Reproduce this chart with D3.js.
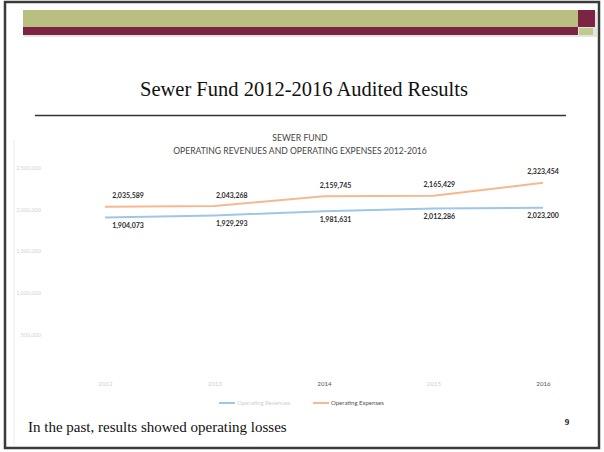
<html>
<head>
<meta charset="UTF-8">
<title>Sewer Fund</title>
<script src="https://cdn.jsdelivr.net/npm/d3@7"></script>
<style>
body{margin:0;background:#fff;}
svg{display:block;}
.serif{font-family:"Liberation Serif","DejaVu Serif",serif;fill:#111;}
.cal{font-family:Lato,"Open Sans",sans-serif;}
</style>
</head>
<body>
<svg id="slide" width="604" height="452"></svg>
<script>
// data
var years = ["2012", "2013", "2014", "2015", "2016"];
var revenues = [1904073, 1929293, 1981631, 2012286, 2023200];
var expenses = [2035589, 2043268, 2159745, 2165429, 2323454];
var yTicks = [500000, 1000000, 1500000, 2000000, 2500000];
var seriesNames = ["Operating Revenues", "Operating Expenses"];

var svg = d3.select("#slide");

// slide frame + header bars
svg.append("rect").attr("x", 5).attr("y", 2).attr("width", 594).attr("height", 446)
    .attr("fill", "none").attr("stroke", "#3a3a3a").attr("stroke-width", 2.5);
svg.append("line").attr("x1", 14).attr("x2", 14).attr("y1", 140).attr("y2", 446)
    .attr("stroke", "#ececec");
svg.append("rect").attr("x", 24).attr("y", 12).attr("width", 573).attr("height", 25).attr("fill", "#e4e4e0");
svg.append("rect").attr("x", 23).attr("y", 10).attr("width", 555).attr("height", 17).attr("fill", "#b9c07f");
svg.append("rect").attr("x", 23).attr("y", 27).attr("width", 555).attr("height", 8).attr("fill", "#7c2444");
svg.append("rect").attr("x", 578).attr("y", 10).attr("width", 17).attr("height", 17).attr("fill", "#7c2444");
svg.append("rect").attr("x", 579).attr("y", 28).attr("width", 14).attr("height", 7).attr("fill", "#c2c98e");

svg.append("text").attr("class", "serif").attr("x", 304).attr("y", 96)
    .attr("text-anchor", "middle").attr("font-size", 20.5)
    .text("Sewer Fund 2012-2016 Audited Results");
svg.append("line").attr("x1", 35).attr("x2", 566).attr("y1", 115.5).attr("y2", 115.5)
    .attr("stroke", "#333").attr("stroke-width", 1.3);

// chart titles
svg.append("text").attr("class", "cal").attr("x", 300).attr("y", 141)
    .attr("text-anchor", "middle").attr("font-size", 8.6).attr("fill", "#444").text("SEWER FUND");
svg.append("text").attr("class", "cal").attr("x", 300).attr("y", 153.5)
    .attr("text-anchor", "middle").attr("font-size", 8.6).attr("fill", "#444")
    .text("OPERATING REVENUES AND OPERATING EXPENSES 2012-2016");

// scales
var x = d3.scalePoint().domain(years).range([105, 543]);
var labelX = d3.scalePoint().domain(years).range([128, 543]);
var y = d3.scaleLinear().domain([0, 2500000]).range([376, 168]);

var yAxis = svg.append("g").attr("class", "cal").attr("transform", "translate(43,0)")
    .call(d3.axisLeft(y).tickValues(yTicks).tickSize(0).tickPadding(2).tickFormat(d3.format(",")));
yAxis.select(".domain").remove();
yAxis.selectAll("text").attr("font-size", 5.5).attr("fill", "#d2d2d2").attr("font-family", "Lato,sans-serif");

var xAxis = svg.append("g").attr("class", "cal").attr("transform", "translate(0,380)")
    .call(d3.axisBottom(x).tickSize(0).tickPadding(2));
xAxis.select(".domain").remove();
xAxis.selectAll("text").attr("font-size", 6.2).attr("fill", function(d) {
    return (d === "2014" || d === "2016") ? "#555" : "#d0d0d0";
}).attr("font-family", "Lato,sans-serif");

var line = d3.line().x(function(d, i) { return x(years[i]); }).y(function(d) { return y(d); });

svg.append("path").datum(revenues).attr("d", line).attr("fill", "none")
    .attr("stroke", "#9cc7ea").attr("stroke-width", 2);
svg.append("path").datum(expenses).attr("d", line).attr("fill", "none")
    .attr("stroke", "#f6b88f").attr("stroke-width", 2);

// data labels
var fmt = d3.format(",");
svg.selectAll("text.exp").data(expenses).enter().append("text")
    .attr("class", "cal exp")
    .attr("x", function(d, i) { return labelX(years[i]); })
    .attr("y", function(d) { return y(d) - 8.5; })
    .attr("text-anchor", "middle").attr("font-size", 7).attr("font-weight", "bold").attr("fill", "#2e2e2e")
    .text(function(d) { return fmt(d); });
svg.selectAll("text.rev").data(revenues).enter().append("text")
    .attr("class", "cal rev")
    .attr("x", function(d, i) { return labelX(years[i]); })
    .attr("y", function(d) { return y(d) + 10.5; })
    .attr("text-anchor", "middle").attr("font-size", 7).attr("font-weight", "bold").attr("fill", "#2e2e2e")
    .text(function(d) { return fmt(d); });

// legend
var legend = svg.append("g").attr("class", "cal");
var legItems = [{name: seriesNames[0], color: "#9cc7ea", tx: 219, text: "#cfcfcf"},
                {name: seriesNames[1], color: "#f6b88f", tx: 313, text: "#555"}];
legItems.forEach(function(it) {
    legend.append("line").attr("x1", it.tx).attr("x2", it.tx + 16).attr("y1", 403).attr("y2", 403)
        .attr("stroke", it.color).attr("stroke-width", 2);
    legend.append("text").attr("x", it.tx + 18).attr("y", 405).attr("font-size", 6)
        .attr("fill", it.text).text(it.name);
});

// footer
svg.append("text").attr("class", "serif").attr("x", 28).attr("y", 432)
    .attr("font-size", 15).text("In the past, results showed operating losses");
svg.append("text").attr("class", "serif").attr("x", 567).attr("y", 425)
    .attr("text-anchor", "middle").attr("font-size", 9).attr("font-weight", "bold").text("9");
</script>
</body>
</html>
